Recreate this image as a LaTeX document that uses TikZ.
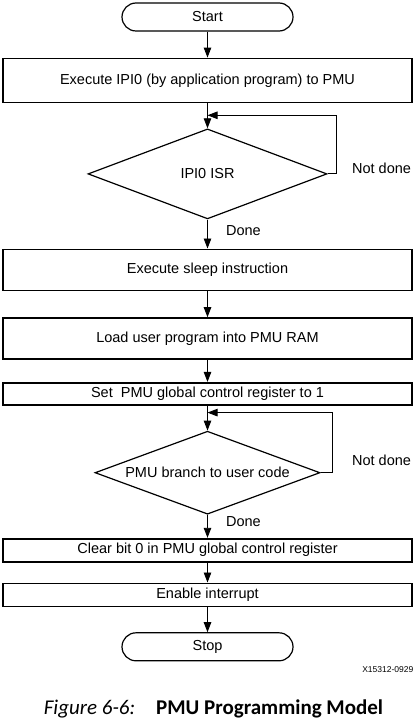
\documentclass[tikz,border=0pt]{standalone}
\usepackage{fontspec}
\setmainfont{Liberation Sans}
\newfontfamily\capfont{Carlito}
\usetikzlibrary{shapes.geometric, arrows.meta, positioning, calc}

\begin{document}
\begin{tikzpicture}[
        x=1pt, y=-1pt,
        font=\fontsize{14.5}{16}\selectfont,
        terminal/.style={
            draw,
            rectangle,
            rounded corners=14pt,
            line width=1.2pt,
            minimum height=28pt,
            minimum width=171pt
        },
        box/.style={
            draw,
            rectangle,
            line width=1.7pt,
            minimum width=409pt,
            align=center
        },
        decision/.style={
            draw,
            diamond,
            line width=1.2pt,
            inner sep=0pt
        },
        arrow/.style={-{Triangle[length=10pt, width=7.5pt]}, line width=0.9pt}
    ]
        \useasboundingbox (0,0) rectangle (415,722);

        \node[terminal] (start) at (207.5,17) {Start};

        \node[box, minimum height=44pt, below=26pt of start] (ipi) {Execute IPI0 (by application program) to PMU};

        \node[decision, minimum width=239pt, minimum height=90pt, aspect=2.6, below=25pt of ipi] (isr) {IPI0 ISR};

        \node[box, minimum height=41pt, below=29pt of isr] (sleep) {Execute sleep instruction};

        \node[box, minimum height=41pt, below=26pt of sleep] (load) {Load user program into PMU RAM};

        \node[box, minimum height=22pt, below=22pt of load] (setreg) {Set \ PMU global control register to 1};

        \node[decision, minimum width=225pt, minimum height=83pt, aspect=2.68, below=25pt of setreg] (branch) {PMU branch to user code};

        \node[box, minimum height=23pt, below=23pt of branch] (clear) {Clear bit 0 in PMU global control register};

        \node[box, minimum height=23pt, below=20pt of clear] (enable) {Enable interrupt};

        \node[terminal, below=25pt of enable] (stop) {Stop};

        % loop labels
        \node[right=21pt of isr.east, yshift=6pt] (notdone1) {Not done};
        \node[right=15pt of isr.south, yshift=-11pt] (done1) {Done};
        \node[right=28pt of branch.east, yshift=12pt] (notdone2) {Not done};
        \node[right=15pt of branch.south, yshift=-7pt] (done2) {Done};

        \coordinate[below=12pt of ipi.south] (back1);
        \coordinate[below=7pt of setreg.south] (back2);

        \draw[arrow] (start) -- (ipi);
        \draw[arrow] (ipi) -- (isr);
        \draw[arrow] (isr) -- (sleep);
        \draw[arrow] (sleep) -- (load);
        \draw[arrow] (load) -- (setreg);
        \draw[arrow] (setreg) -- (branch);
        \draw[arrow] (branch) -- (clear);
        \draw[arrow] (clear) -- (enable);
        \draw[arrow] (enable) -- (stop);

        \draw[arrow] (isr.east) -- ++(9pt,0) |- (back1);
        \draw[arrow] (branch.east) -- ++(12pt,0) |- (back2);

        \node[font=\fontsize{8.5}{10}\selectfont, anchor=east, inner sep=1pt] (figid) at (414.5,670) {X15312-0929};

        \node[font=\capfont\fontsize{21}{24}\selectfont] (caption) at (213.5,709) {\textit{Figure 6-6:}\hspace{21pt}\textbf{PMU Programming Model}};

    \end{tikzpicture}
\end{document}
